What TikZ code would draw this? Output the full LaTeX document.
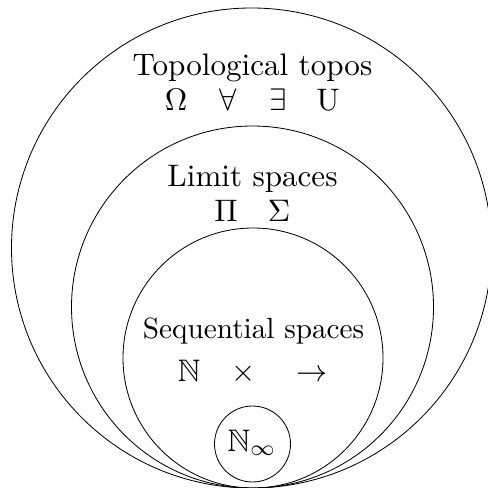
\documentclass[tikz,border=0pt]{standalone}
\usepackage{amssymb}
\newcommand\pxu{0.54}
\begin{document}
\begin{tikzpicture}[x=\pxu pt,y=-\pxu pt,
  ring/.style={circle,draw,line width=0.45pt,inner sep=0pt,outer sep=0pt,minimum size=#1*\pxu pt},
  lbl/.style={anchor=base,inner sep=0pt,font=\normalsize,scale=1.68},
  slbl/.style={lbl,scale=1.58/1.68}]
\useasboundingbox (0,0) rectangle (488,488);
\node[ring=480] (topos) at (251.5,248) {};
\node[ring=362] (limit) at (252.5,307) {};
\node[ring=260] (seq) at (253,358) {};
\node[ring=76] (ninf) at (252.5,444) {};
% labels
\node[lbl] (t1) at (252.5,76) {Topological topos};
\node[lbl] (om) at (176,111) {$\Omega$};
\node[lbl] (fa) at (228,111) {$\forall$};
\node[lbl] (ex) at (278,111) {$\exists$};
\node[lbl] (un) at (328,111) {$\mathrm{U}$};
\node[lbl] (t2) at (252.5,186) {Limit spaces};
\node[lbl] (pi) at (226,221) {$\Pi$};
\node[lbl] (si) at (279,221) {$\Sigma$};
\node[slbl] (t3) at (253.5,338.5) {Sequential spaces};
\node[lbl] (nn) at (189,381) {$\mathbb{N}$};
\node[lbl] (ti) at (244,381) {$\times$};
\node[lbl] (to) at (312,381) {$\rightarrow$};
\node[lbl] (ni) at (252,451) {$\mathbb{N}_\infty$};
\end{tikzpicture}
\end{document}
